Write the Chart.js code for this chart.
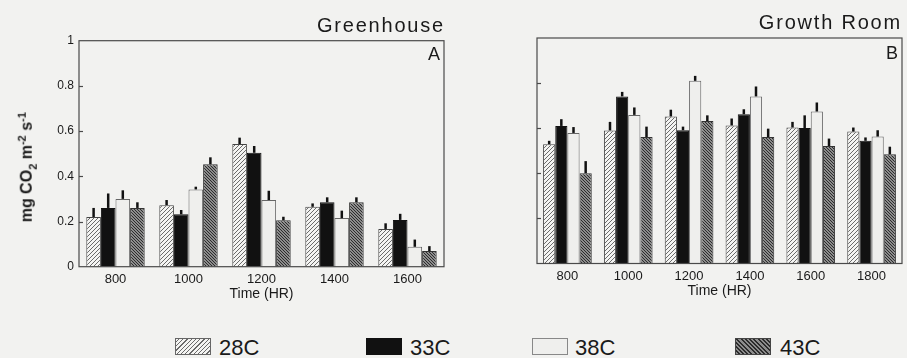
<!DOCTYPE html>
<html>
<head>
<meta charset="utf-8">
<script src="https://cdn.jsdelivr.net/npm/chart.js@4.4.1/dist/chart.umd.min.js"></script>
<style>
  html, body { margin:0; padding:0; background:#f2f2f0; }
  body { width:907px; height:358px; position:relative; overflow:hidden; font-family:"Liberation Sans", Arial, sans-serif; color:#1a1a1a; }
  canvas { position:absolute; }
  .t { position:absolute; white-space:nowrap; }
  .title { font-size:20px; line-height:20px; letter-spacing:1.8px; }
  .panel { font-size:18px; line-height:18px; }
  .ytitle { font-size:16px; font-weight:bold; line-height:18px; width:220px; text-align:center; transform:rotate(-90deg); }
  .ytitle sub, .ytitle sup { font-size:11px; }
  .lg { font-size:22px; line-height:22px; }
  .sw { position:absolute; width:34px; height:15px; border:1px solid #555; }
</style>
</head>
<body>
<canvas id="cA" width="450" height="303" style="left:0;top:0;width:450px;height:303px"></canvas>
<canvas id="cB" width="447" height="300" style="left:460px;top:0;width:447px;height:300px"></canvas>

<div class="t title" style="right:462px;top:15px">Greenhouse</div>
<div class="t title" style="right:5px;top:11.5px">Growth Room</div>
<div class="t panel" style="right:467px;top:45px">A</div>
<div class="t panel" style="right:9px;top:43.5px">B</div>
<div class="t ytitle" style="left:-83px;top:153px">mg CO<sub>2</sub> m<sup>-2</sup> s<sup>-1</sup></div>

<div id="legend"></div>

<script>
// ---------- data ----------
const timesA = ['800', '1000', '1200', '1400', '1600'];
const timesB = ['800', '1000', '1200', '1400', '1600', '1800'];
const seriesNames = ['28C', '33C', '38C', '43C'];
const yTickLabels = ['0', '0.2', '0.4', '0.6', '0.8', '1'];

// Panel A: Greenhouse
const gh28 = [0.22, 0.272, 0.543, 0.265, 0.167];
const gh33 = [0.26, 0.232, 0.504, 0.285, 0.207];
const gh38 = [0.30, 0.342, 0.295, 0.215, 0.088];
const gh43 = [0.26, 0.453, 0.205, 0.285, 0.069];
const gh28err = [0.040, 0.023, 0.028, 0.015, 0.025];
const gh33err = [0.064, 0.019, 0.030, 0.022, 0.027];
const gh38err = [0.038, 0.012, 0.041, 0.033, 0.032];
const gh43err = [0.025, 0.031, 0.016, 0.022, 0.022];

// Panel B: Growth Room
const gr28 = [0.529, 0.590, 0.652, 0.612, 0.603, 0.585];
const gr33 = [0.610, 0.741, 0.591, 0.662, 0.601, 0.544];
const gr38 = [0.579, 0.659, 0.810, 0.741, 0.674, 0.563];
const gr43 = [0.400, 0.561, 0.632, 0.561, 0.521, 0.484];
const gr28err = [0.015, 0.038, 0.030, 0.031, 0.025, 0.018];
const gr33err = [0.030, 0.020, 0.016, 0.022, 0.056, 0.015];
const gr38err = [0.026, 0.033, 0.022, 0.044, 0.040, 0.028];
const gr43err = [0.054, 0.046, 0.025, 0.037, 0.033, 0.034];

// ---------- styles ----------
const FONT = '"Liberation Sans", Arial, sans-serif';
const TXT = '#1a1a1a';
function makeHatch(bg, fg, dir, size, lw) {
  const c = document.createElement('canvas');
  c.width = c.height = size;
  const g = c.getContext('2d');
  g.fillStyle = bg; g.fillRect(0, 0, size, size);
  g.strokeStyle = fg; g.lineWidth = lw;
  g.beginPath();
  if (dir > 0) {
    g.moveTo(0, size); g.lineTo(size, 0);
    g.moveTo(-1, 1); g.lineTo(1, -1);
    g.moveTo(size - 1, size + 1); g.lineTo(size + 1, size - 1);
  } else {
    g.moveTo(0, 0); g.lineTo(size, size);
    g.moveTo(-1, size - 1); g.lineTo(1, size + 1);
    g.moveTo(size - 1, -1); g.lineTo(size + 1, 1);
  }
  g.stroke();
  return g.createPattern(c, 'repeat');
}
const fills = [
  makeHatch('#f4f4f2', '#6a6a6a', 1, 4, 1),
  '#111111',
  '#efefed',
  makeHatch('#8c8c8c', '#2c2c2c', -1, 3, 1)
];
const borders = ['#444', '#111', '#666', '#333'];

// ---------- plugins ----------
const errorBars = {
  id: 'errorBars',
  afterDatasetsDraw(chart) {
    const ctx = chart.ctx, ys = chart.scales.y;
    ctx.save();
    ctx.strokeStyle = '#111';
    ctx.lineWidth = 2.5;
    chart.data.datasets.forEach((ds, di) => {
      const meta = chart.getDatasetMeta(di);
      meta.data.forEach((el, i) => {
        const top = ys.getPixelForValue(ds.data[i] + ds.errors[i]);
        ctx.beginPath();
        ctx.moveTo(el.x, el.y);
        ctx.lineTo(el.x, top);
        ctx.stroke();
      });
    });
    ctx.restore();
  }
};
const frame = {
  id: 'frame',
  afterDraw(chart) {
    const {ctx, chartArea: a} = chart;
    const ys = chart.scales.y;
    ctx.save();
    ctx.strokeStyle = '#4a4a4a';
    ctx.lineWidth = 1.2;
    ctx.strokeRect(a.left, a.top, a.right - a.left, a.bottom - a.top);
    ys.ticks.forEach((t, i) => {
      if (i === 0 || i === ys.ticks.length - 1) return;
      const y = Math.round(ys.getPixelForTick(i)) + 0.5;
      ctx.beginPath();
      ctx.moveTo(a.left, y);
      ctx.lineTo(a.left + 4, y);
      ctx.stroke();
    });
    ctx.restore();
  }
};

function build(id, labels, vals, errs, opts) {
  return new Chart(document.getElementById(id), {
    type: 'bar',
    data: {
      labels: labels,
      datasets: seriesNames.map((n, k) => ({
        label: n,
        data: vals[k],
        errors: errs[k],
        backgroundColor: fills[k],
        borderColor: borders[k],
        borderWidth: 1,
        borderSkipped: 'bottom',
        categoryPercentage: 0.8,
        barPercentage: 1.0
      }))
    },
    options: {
      responsive: false,
      animation: false,
      devicePixelRatio: 1,
      layout: { padding: { top: opts.top, right: opts.right, left: 0, bottom: 0 } },
      plugins: { legend: { display: false }, tooltip: { enabled: false }, title: { display: false } },
      scales: {
        x: {
          grid: { display: false, drawTicks: false },
          border: { display: false },
          ticks: { font: { family: FONT, size: 13 }, color: TXT, padding: 5, maxRotation: 0 },
          title: { display: true, text: 'Time (HR)', font: { family: FONT, size: 14 }, color: TXT, padding: 0 },
          afterFit(s) { s.height = opts.xh; }
        },
        y: {
          min: 0, max: 1,
          grid: { display: false, drawTicks: false },
          border: { display: false },
          ticks: {
            display: opts.yLabels,
            stepSize: 0.2,
            font: { family: FONT, size: 12 }, color: TXT, padding: 5,
            callback: (v, i) => yTickLabels[i]
          },
          afterFit(s) { s.width = opts.yw; }
        }
      }
    },
    plugins: [errorBars, frame]
  });
}

build('cA', timesA, [gh28, gh33, gh38, gh43], [gh28err, gh33err, gh38err, gh43err],
  { top: 40.7, right: 6, xh: 36.3, yw: 79, yLabels: true });
build('cB', timesB, [gr28, gr33, gr38, gr43], [gr28err, gr33err, gr38err, gr43err],
  { top: 38, right: 5, xh: 36.5, yw: 77, yLabels: false });

// ---------- legend (HTML) ----------
const legendSw = [175, 366, 532, 735];
const legendTx = [219, 410, 575, 780];
const swCss = [
  'background:repeating-linear-gradient(-45deg,#f4f4f2 0 2px,#6a6a6a 2px 3px);border-color:#666',
  'background:#111;border-color:#111',
  'background:#efefed;border-color:#888',
  'background:repeating-linear-gradient(45deg,#8c8c8c 0 1.5px,#2c2c2c 1.5px 3px);border-color:#444'
];
const lg = document.getElementById('legend');
seriesNames.forEach((n, k) => {
  const s = document.createElement('div');
  s.className = 'sw';
  s.style.cssText = 'left:' + legendSw[k] + 'px;top:338px;' + swCss[k];
  lg.appendChild(s);
  const t = document.createElement('div');
  t.className = 't lg';
  t.style.left = legendTx[k] + 'px';
  t.style.top = '336.5px';
  t.textContent = n;
  lg.appendChild(t);
});
</script>
</body>
</html>
